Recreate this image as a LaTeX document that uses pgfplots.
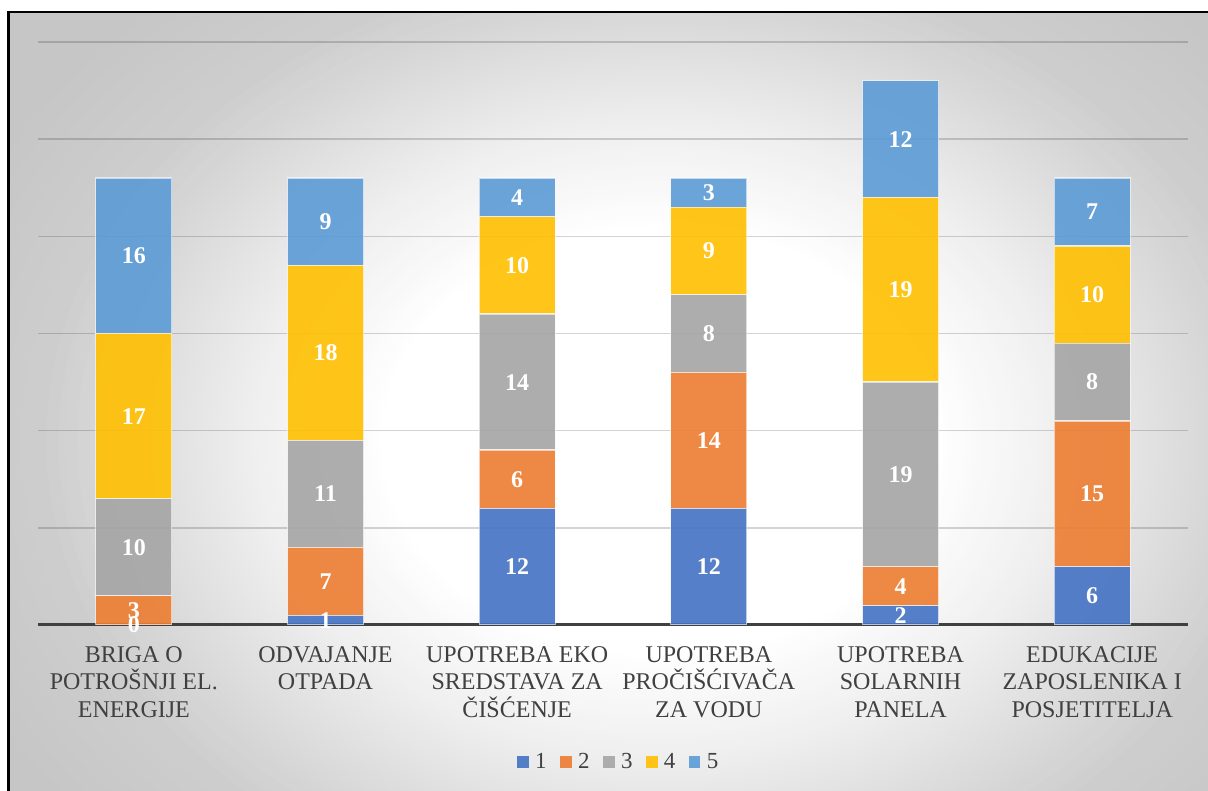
\documentclass[border=0pt]{standalone}
\usepackage{pgfplots}
\usepackage{pgfplotstable}
\pgfplotsset{compat=1.18}
\usepackage{fontspec}
\setmainfont{Liberation Serif}
\definecolor{c1}{HTML}{4472C4}
\definecolor{c2}{HTML}{ED7D31}
\definecolor{c3}{HTML}{A5A5A5}
\definecolor{c4}{HTML}{FFC000}
\definecolor{c5}{HTML}{5B9BD5}
\definecolor{g4}{RGB}{198,198,198}
\definecolor{txt}{HTML}{404040}
\definecolor{axc}{HTML}{404040}
\pgfplotstableread{
x s1 s2 s3 s4 s5
0 0 3 10 17 16
1 1 7 11 18 9
2 12 6 14 10 4
3 12 14 8 9 3
4 2 4 19 19 12
5 6 15 8 10 7
}\data
\begin{document}
\begin{tikzpicture}
\fill[white] (0,0) rectangle (604pt,395.5pt);
\begin{scope}
\clip (4.35pt,0pt) rectangle (604pt,389.5pt);
\fill[g4] (4.35pt,0pt) rectangle (604pt,389.5pt);
\foreach \i in {160,159,...,44}{
  \pgfmathsetmacro\r{\i/100}
  \pgfmathtruncatemacro\v{\r<=0.45 ? 255 : (\r<=0.65 ? 255-75*(\r-0.45) : (\r<=0.93 ? 240-96.43*(\r-0.65) : (\r<=1 ? 213-100*(\r-0.93) : (\r<=1.25 ? 206-32*(\r-1) : 198))))}
  \definecolor{tmp}{RGB}{\v,\v,\v}
  \fill[tmp] (330pt,175pt) ellipse [x radius=\r*310pt, y radius=\r*240pt];
}
\end{scope}
\draw[black, line width=1.3pt] (4.35pt,0pt) -- (4.35pt,389.5pt) -- (604pt,389.5pt);
\pgfplotsset{
  common/.style={at={(19pt,83pt)}, anchor=south west, scale only axis,
    width=575pt, height=291.5pt, xmin=-0.5, xmax=5.5, ymin=0, ymax=60},
}
\begin{axis}[common,
  ybar stacked, bar width=38pt,
  axis x line*=bottom, axis y line*=left,
  y axis line style={draw=none},
  x axis line style={draw=axc, line width=1.5pt},
  major tick length=0pt,
  ytick={10,20,...,60}, yticklabels={},
  ymajorgrids, grid style={black, draw opacity=0.17, line width=0.8pt},
  xtick={0,...,5},
  xticklabels={{BRIGA O\\POTROŠNJI EL.\\ENERGIJE},{ODVAJANJE\\OTPADA},{UPOTREBA EKO\\SREDSTAVA ZA\\ČIŠĆENJE},{UPOTREBA\\PROČIŠĆIVAČA\\ZA VODU},{UPOTREBA\\SOLARNIH\\PANELA},{EDUKACIJE\\ZAPOSLENIKA I\\POSJETITELJA}},
  xticklabel style={align=center, font=\fontsize{12}{13.85}\selectfont, text=txt, anchor=north, inner sep=0pt, yshift=-10.5pt},
  every axis plot/.append style={fill opacity=0.9, draw=white, draw opacity=0.6, line width=0.6pt},
  legend columns=5,
  legend style={at={(0.507,-0.235)}, anchor=center, draw=none, fill=none, font=\fontsize{11.5}{13}\selectfont, text=txt,
    nodes={inner sep=0pt, inner xsep=3.2pt},
    /tikz/every even column/.append style={column sep=3.6pt}},
  legend image code/.code={\fill[#1, draw=none] (0pt,-2.85pt) rectangle (5.7pt,2.85pt);},
]
\addplot[fill=c1] table[x=x,y=s1] \data;
\addplot[fill=c2] table[x=x,y=s2] \data;
\addplot[fill=c3] table[x=x,y=s3] \data;
\addplot[fill=c4] table[x=x,y=s4] \data;
\addplot[fill=c5] table[x=x,y=s5] \data;
\legend{1,2,3,4,5}
\end{axis}
\begin{axis}[common, axis lines=none, xtick=\empty, ytick=\empty,
  /pgf/number format/assume math mode=true,
  point meta=explicit, nodes near coords,
  every node near coord/.append style={anchor=center, inner sep=0pt, text=white, font=\fontsize{12}{13}\selectfont\bfseries},
]
\addplot[draw=none, mark=none] table[x=x, y expr={0.5*\thisrow{s1}}, meta=s1] \data;
\addplot[draw=none, mark=none] table[x=x, y expr={\thisrow{s1}+0.5*\thisrow{s2}}, meta=s2] \data;
\addplot[draw=none, mark=none] table[x=x, y expr={\thisrow{s1}+\thisrow{s2}+0.5*\thisrow{s3}}, meta=s3] \data;
\addplot[draw=none, mark=none] table[x=x, y expr={\thisrow{s1}+\thisrow{s2}+\thisrow{s3}+0.5*\thisrow{s4}}, meta=s4] \data;
\addplot[draw=none, mark=none] table[x=x, y expr={\thisrow{s1}+\thisrow{s2}+\thisrow{s3}+\thisrow{s4}+0.5*\thisrow{s5}}, meta=s5] \data;
\end{axis}
\pgfresetboundingbox
\useasboundingbox (0,0) rectangle (604pt,395.5pt);
\end{tikzpicture}
\end{document}
